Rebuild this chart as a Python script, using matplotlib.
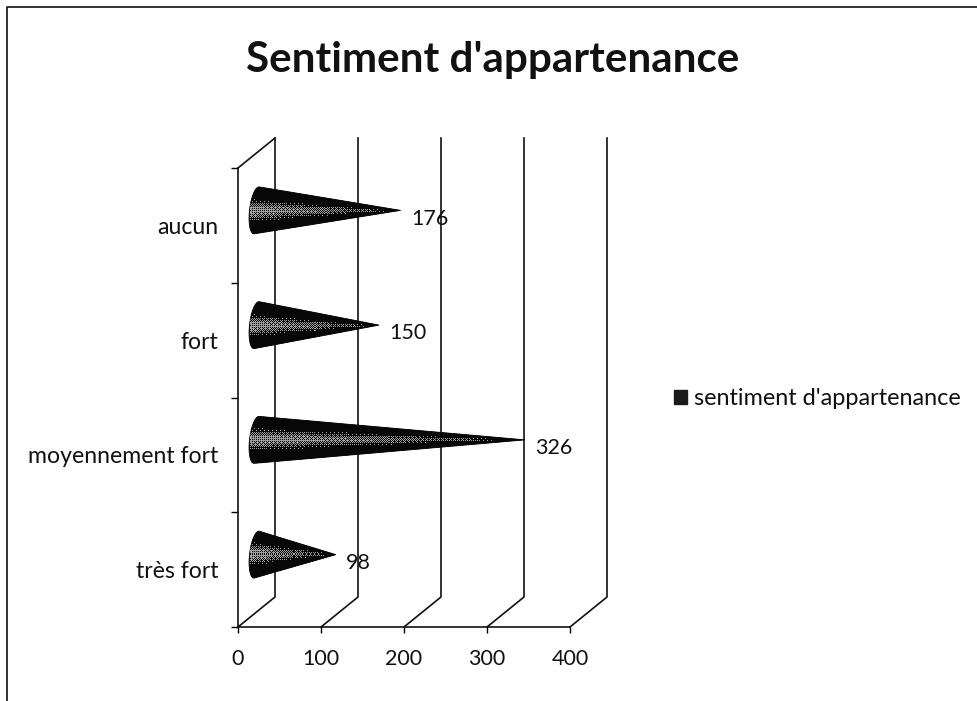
import numpy as np
import matplotlib
matplotlib.use("Agg")
import matplotlib.pyplot as plt
from matplotlib.patches import Polygon, Patch
from matplotlib.lines import Line2D

categories = ["très fort", "moyennement fort", "fort", "aucun"]
values = [98, 326, 150, 176]
value_labels = ["98", "326", "150", "176"]
x_ticks = [0, 100, 200, 300, 400]
title = "Sentiment d'appartenance"
series_name = "sentiment d'appartenance"

W, H = 977, 701
plt.rcParams["font.family"] = ["Lato", "DejaVu Sans"]
fig = plt.figure(figsize=(W / 100, H / 100), dpi=100, facecolor="white")

# plot box in pixels
L, R, T, B = 238, 570, 168, 627
ax = fig.add_axes([L / W, 1 - B / H, (R - L) / W, (B - T) / H])
ax.set_xlim(0, 400)
ax.set_ylim(0, 4)
ax.patch.set_visible(False)
for s in ("top", "right"):
    ax.spines[s].set_visible(False)
for s in ("left", "bottom"):
    ax.spines[s].set_linewidth(1.2)
    ax.spines[s].set_color("#111111")

px_x = 400 / (R - L)
px_y = 4 / (B - T)
DX, DY = 37 * px_x, 30 * px_y   # 3-D depth in data units

ax.set_xticks(x_ticks)
ax.set_xticklabels([str(v) for v in x_ticks], fontsize=15.5, color="#111111")
ax.tick_params(axis="x", length=4, width=1, pad=11.5)
ax.set_yticks(range(5))
ax.set_yticklabels([])
ax.tick_params(axis="y", which="major", length=5, width=1)
centers = np.arange(len(categories)) + 0.5
ax.set_yticks(centers, minor=True)
ax.set_yticklabels(categories, minor=True, fontsize=16.6, color="#111111")
ax.tick_params(axis="y", which="minor", length=0, pad=14)

# back walls
for x in x_ticks:
    ax.plot([x, x + DX, x + DX], [0, DY, 4 + DY], color="#111111", lw=1.2,
            clip_on=False, zorder=1)
ax.plot([0, DX], [4, 4 + DY], color="#111111", lw=1.2, clip_on=False, zorder=1)

bayer = np.array([[0, 8, 2, 10], [12, 4, 14, 6], [3, 11, 1, 9], [15, 7, 13, 5]]) / 16.0

# cones
a = 7 * px_x      # base ellipse half-width
b = 23.5 * px_y   # base half-height
tilt = 2.5 * px_x
for c, v, lab in zip(centers, values, value_labels):
    x0 = DX / 2
    xt = v + DX / 2 - 2 * px_x
    yc = c + DY / 2
    th = np.linspace(np.pi / 2, 3 * np.pi / 2, 40)
    base_x = x0 + a * np.cos(th) + tilt * np.sin(th)
    base_y = yc + b * np.sin(th)
    xs = np.r_[xt, base_x]
    ys = np.r_[yc, base_y]
    poly = Polygon(np.c_[xs, ys], closed=True, fc="#050505", ec="#050505", lw=0.6,
                   clip_on=False, zorder=3)
    ax.add_patch(poly)
    # speckled sheen, ordered dither clipped to the cone
    nx = int((xt - (x0 - a)) / px_x)
    ny = int(2 * b / px_y)
    u = np.linspace(0, 1, nx)[None, :]
    w = np.linspace(-1, 1, ny)[:, None]
    width = np.clip(1 - u, 0.02, 1)
    glow = np.exp(-(w / (width * 0.4)) ** 2) * (1 - 0.6 * u)
    thr = np.tile(bayer, (ny // 4 + 1, nx // 4 + 1))[:ny, :nx]
    img = np.where(glow > thr + 0.2, 0.62, 0.03)
    im = ax.imshow(img, cmap="gray", vmin=0, vmax=1, extent=(x0 - a, xt, yc - b, yc + b),
                   aspect="auto", interpolation="nearest", zorder=4)
    im.set_clip_path(poly)
    ax.annotate(lab, (xt, yc), xytext=(7.5, -6), textcoords="offset points",
                ha="left", va="center", fontsize=15.5, color="#111111", zorder=5,
                annotation_clip=False)
ax.set_xlim(0, 400)
ax.set_ylim(0, 4)

fig.text(493 / W, 1 - 60 / H, title, ha="center", va="center", fontsize=30.3,
         fontweight="bold", color="#111111")

handle = Patch(fc="#1a1a1a", ec="#1a1a1a")
fig.legend([handle], [series_name], loc="center left",
           bbox_to_anchor=(674 / W, 1 - 398.5 / H), frameon=False, fontsize=16.9,
           handlelength=0.55, handleheight=0.55, handletextpad=0.3,
           borderpad=0, borderaxespad=0, labelcolor="#111111")

# page border of the scan
fig.add_artist(Line2D([7 / W, 7 / W, 1], [0, 1 - 7 / H, 1 - 7 / H],
                      color="#111111", lw=1.2, transform=fig.transFigure))

fig.savefig("out.png", dpi=100)
